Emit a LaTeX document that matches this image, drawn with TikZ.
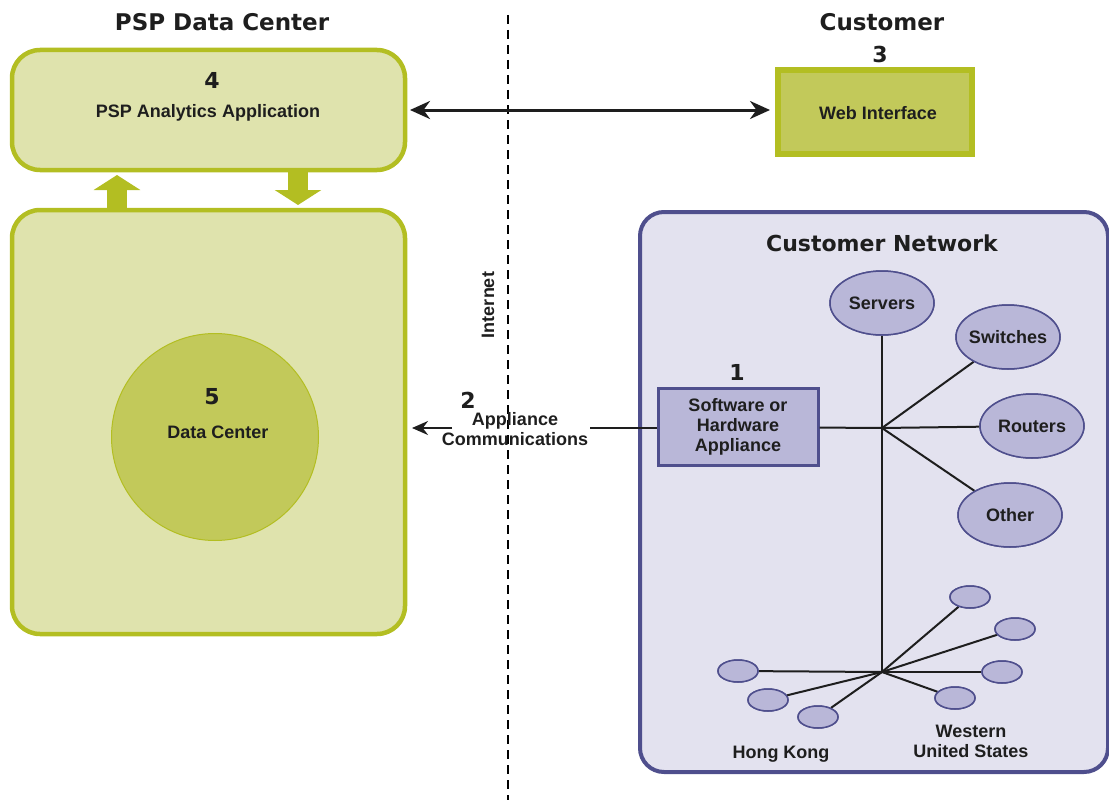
\documentclass[tikz,border=0pt]{standalone}
\usepackage{fontspec}
\setmainfont{Liberation Sans}
\newfontfamily\heavyfont{DejaVu Sans}
\usetikzlibrary{arrows.meta,shapes.geometric,calc}
\definecolor{olivefill}{HTML}{DFE3AD}
\definecolor{oliveline}{HTML}{B3BE22}
\definecolor{olivedark}{HTML}{C2C95A}
\definecolor{netfill}{HTML}{E3E2EF}
\definecolor{netline}{HTML}{4F4F8D}
\definecolor{ellfill}{HTML}{B9B7D8}
\definecolor{ink}{HTML}{1E1E1E}
\begin{document}
\begin{tikzpicture}[x=1pt,y=-1pt,
  every node/.style={font=\bfseries, text=ink, inner sep=0pt},
  title/.style={font=\heavyfont\bfseries\fontsize{23}{25}\selectfont},
  num/.style={font=\heavyfont\bfseries\fontsize{22}{24}\selectfont},
  lbl/.style={font=\bfseries\fontsize{18}{20}\selectfont, align=center},
  oliveboxstyle/.style={draw=oliveline, line width=4.5pt, fill=olivefill, rounded corners=28pt},
  ell/.style={ellipse, draw=netline, line width=1.5pt, fill=ellfill, minimum width=104pt, minimum height=64pt},
  small/.style={ellipse, draw=netline, line width=1.5pt, fill=ellfill, minimum width=40pt, minimum height=22pt},
  wire/.style={draw=ink, line width=2pt},
  fat/.style={line width=20pt, draw=oliveline, -{Triangle[width=46pt,length=15pt]}}
]
\useasboundingbox (0,0) rectangle (1109,800);

% dashed separator
\coordinate (dtop) at (508,15);
\coordinate (dbot) at (508,800);
\draw[dashed, line width=1.3pt, dash pattern=on 9pt off 6pt] (dtop) -- (dbot);

% titles
\node[title] (t1) at (222,22) {PSP Data Center};
\node[title] (t2) at (882,22) {Customer};
\node[num] (n3) at (880,54) {3};

% box 4
\draw[oliveboxstyle] (12,50) rectangle (405,170);
\node (b4) at (208,110) [minimum width=393pt, minimum height=120pt] {};
\node[num] (n4) at (212,80) {4};
\node[lbl] (l4) at (208,113) {PSP Analytics Application};

% box 5
\draw[oliveboxstyle] (12,210) rectangle (405,634);
\node (b5) at (208,422) [minimum width=393pt, minimum height=424pt] {};
\node[circle, draw=oliveline, line width=1pt, fill=olivedark, minimum size=207pt] (dc) at (215,437) {};
\node[num] (n5) at (212,397) {5};
\node[lbl] (l5) at (218,432) {Data Center};

% fat arrows
\coordinate (ua1) at (117,208);
\coordinate (ua2) at (117,175);
\coordinate (da1) at (298,172);
\coordinate (da2) at (298,205);
\draw[fat] (ua1) -- (ua2);
\draw[fat] (da1) -- (da2);

% web interface
\node[draw=oliveline, line width=6pt, fill=olivedark, minimum width=194pt, minimum height=83pt] (web) at (875,112) {};
\node[lbl] (lweb) at (878,113) {Web Interface};

% double arrow
\coordinate (wa1) at (410,110);
\coordinate (wa2) at (770,110);
\draw[line width=3pt, draw=ink, {Stealth[length=20pt,width=18pt]}-{Stealth[length=20pt,width=18pt]}] (wa1) -- (wa2);

% internet
\node[lbl, rotate=90] (inet) at (488,305) {Internet};

% customer network
\draw[draw=netline, fill=netfill, line width=4pt, rounded corners=24pt] (640,212) rectangle (1108,772);
\node[title, font=\heavyfont\bfseries\fontsize{22}{24}\selectfont] (cn) at (882,243) {Customer Network};

% appliance
\node[draw=netline, line width=3pt, fill=ellfill, minimum width=160pt, minimum height=77pt] (app) at (738,427) {};
\node[lbl] (lapp) at (738,427) {Software or\\Hardware\\Appliance};
\node[num] (n1) at (737,372) {1};

% big ellipses
\node[ell] (srv) at (882,303) {};
\node[ell] (swi) at (1008,337) {};
\node[ell] (rou) at (1032,426) {};
\node[ell] (oth) at (1010,515) {};

% hubs
\coordinate (hub) at (882,428);
\coordinate (hub2) at (882,672);

% small ellipses
\node[small] (h1) at (738,671) {};
\node[small] (h2) at (768,700) {};
\node[small] (h3) at (818,717) {};
\node[small] (w1) at (970,597) {};
\node[small] (w2) at (1015,629) {};
\node[small] (w3) at (1002,672) {};
\node[small] (w4) at (955,698) {};

% wires
\draw[wire] (srv) -- (hub2);
\draw[wire] (app) -- (hub);
\draw[wire] (hub) -- (swi);
\draw[wire] (hub) -- (rou);
\draw[wire] (hub) -- (oth);
\foreach \n in {h1,h2,h3,w1,w2,w3,w4} \draw[wire] (hub2) -- (\n);

% redraw ellipses over wires
\node[ell] at (srv) {};
\node[ell] at (swi) {};
\node[ell] at (rou) {};
\node[ell] at (oth) {};
\foreach \n in {h1,h2,h3,w1,w2,w3,w4} \node[small] at (\n) {};
\node[lbl] at (srv) {Servers};
\node[lbl] at (swi) {Switches};
\node[lbl] at (rou) {Routers};
\node[lbl] at (oth) {Other};

\node[lbl] (hk) at (781,754) {Hong Kong};
\node[lbl] (wus) at (971,741) {Western\\United States};

% appliance communications
\coordinate (ac1) at (657,428);
\coordinate (ac2) at (590,428);
\coordinate (ac3) at (452,428);
\coordinate (ac4) at (412,428);
\draw[wire] (ac1) -- (ac2);
\draw[wire, -{Stealth[length=16pt,width=14pt]}] (ac3) -- (ac4);
\node[num] (n2) at (468,400) {2};
\node[lbl] (lac) at (515,429) {Appliance\\Communications};
\end{tikzpicture}
\end{document}
